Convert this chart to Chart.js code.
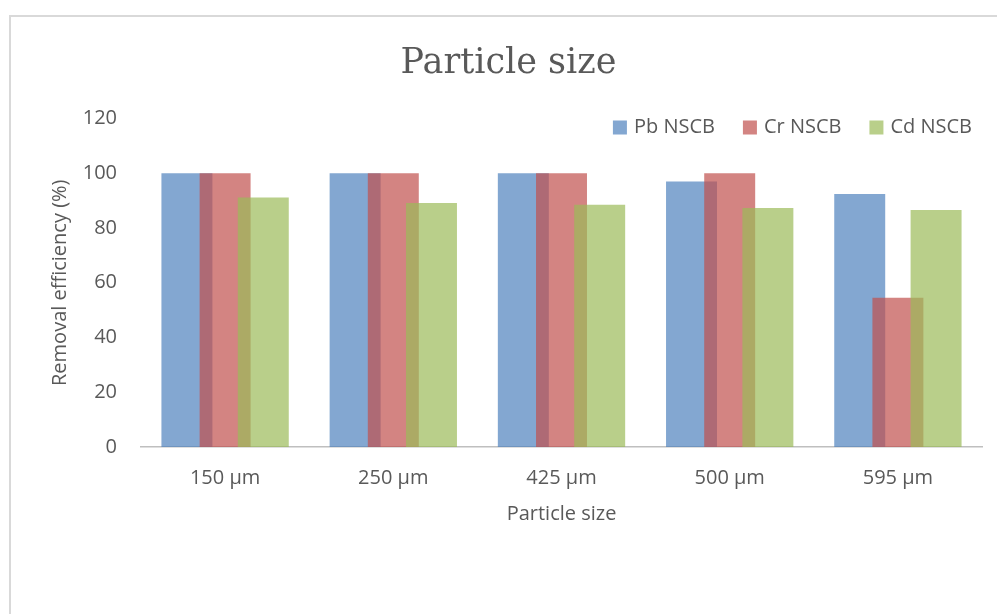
<!DOCTYPE html>
<html>
<head>
<meta charset="utf-8">
<script src="https://cdn.jsdelivr.net/npm/chart.js@4"></script>
<style>
  html, body { margin: 0; padding: 0; background: #ffffff; overflow: hidden; }
  #wrap { position: relative; width: 997px; height: 614px; overflow: hidden; }
  #frame { position: absolute; left: 9px; top: 15px; width: 2000px; height: 2000px;
           border: 2px solid #D9D9D9; box-sizing: border-box; }
  #chart { position: absolute; left: 0; top: 0; }
</style>
</head>
<body>
<div id="wrap">
  <div id="frame"></div>
  <canvas id="chart" width="997" height="614"></canvas>
</div>
<script>
// Removal efficiency by particle size
const categories = ['150 µm', '250 µm', '425 µm', '500 µm', '595 µm'];
const seriesNames = ['Pb NSCB', 'Cr NSCB', 'Cd NSCB'];
const pbValues = [100, 100, 100, 97, 92.4];
const crValues = [100, 100, 100, 100, 54.5];
const cdValues = [91.1, 89.1, 88.5, 87.3, 86.6];
const yTicks = [0, 20, 40, 60, 80, 100, 120];

const TEXT = '#595959';
const FONT = '"Open Sans", "Noto Sans", sans-serif';
const colors = ['rgba(79,129,189,0.7)', 'rgba(192,80,77,0.7)', 'rgba(155,187,89,0.7)'];

// Paint series first-to-last so each later series lies over the one before it
const forwardPaint = {
  id: 'forwardPaint',
  beforeDatasetsDraw(chart) {
    const ctx = chart.ctx;
    const area = chart.chartArea;
    ctx.save();
    ctx.beginPath();
    ctx.rect(area.left, area.top - 2, area.right - area.left, area.bottom - area.top + 2);
    ctx.clip();
    chart.data.datasets.forEach((ds, i) => {
      const meta = chart.getDatasetMeta(i);
      if (meta.visible !== false) meta.controller.draw();
    });
    ctx.restore();
    return false;
  }
};

// Horizontal legend drawn inside the top-right corner of the plot area
const insideLegend = {
  id: 'insideLegend',
  afterDraw(chart) {
    const ctx = chart.ctx;
    const area = chart.chartArea;
    ctx.save();
    ctx.font = '20px ' + FONT;
    ctx.textBaseline = 'middle';
    ctx.textAlign = 'left';
    const box = 14, gapText = 7, gapItem = 28;
    const items = chart.data.datasets.map(ds => ({
      label: ds.label, color: ds.backgroundColor, w: ctx.measureText(ds.label).width
    }));
    const total = items.reduce((s, it) => s + box + gapText + it.w, 0) + gapItem * (items.length - 1);
    let x = area.right - 10 - total;
    const cy = area.top + 9;
    items.forEach(it => {
      ctx.fillStyle = it.color;
      ctx.fillRect(x, cy - box / 2, box, box);
      ctx.fillStyle = TEXT;
      ctx.fillText(it.label, x + box + gapText, cy);
      x += box + gapText + it.w + gapItem;
    });
    ctx.restore();
  }
};

const datasets = [pbValues, crValues, cdValues].map((vals, i) => ({
  label: seriesNames[i],
  data: vals,
  backgroundColor: colors[i],
  borderWidth: 0,
  categoryPercentage: 0.681,
  barPercentage: 1.335
}));

new Chart(document.getElementById('chart'), {
  type: 'bar',
  data: { labels: categories, datasets },
  plugins: [forwardPaint, insideLegend],
  options: {
    responsive: false,
    animation: false,
    layout: { padding: { left: 35, right: 15, top: 0, bottom: 82 } },
    plugins: {
      legend: { display: false },
      tooltip: { enabled: false },
      title: {
        display: true,
        text: 'Particle size',
        color: TEXT,
        font: { family: '"DejaVu Serif", serif', size: 35, weight: 'normal', lineHeight: 1.2 },
        padding: { top: 43, bottom: 33.5 }
      }
    },
    scales: {
      x: {
        grid: { display: false, drawTicks: false, tickLength: 0 },
        border: { display: true, color: '#BFBFBF', width: 1.5 },
        ticks: { color: TEXT, font: { family: FONT, size: 20 }, padding: 19 },
        title: {
          display: true, text: 'Particle size', color: TEXT,
          font: { family: FONT, size: 20, lineHeight: 1.2 },
          padding: { top: 0, bottom: 6 }
        },
        afterFit(scale) { scale.height = 85; }
      },
      y: {
        min: 0,
        max: 120,
        grid: { display: false, drawTicks: false, tickLength: 0 },
        border: { display: false },
        afterBuildTicks(scale) { scale.ticks = yTicks.map(v => ({ value: v })); },
        ticks: { color: TEXT, font: { family: FONT, size: 20 }, padding: 24 },
        title: {
          display: true, text: 'Removal efficiency (%)', color: TEXT,
          font: { family: FONT, size: 20, lineHeight: 1.2 },
          padding: { top: 13, bottom: 0 }
        },
        afterFit(scale) { scale.width = 106; }
      }
    }
  }
});
</script>
</body>
</html>
